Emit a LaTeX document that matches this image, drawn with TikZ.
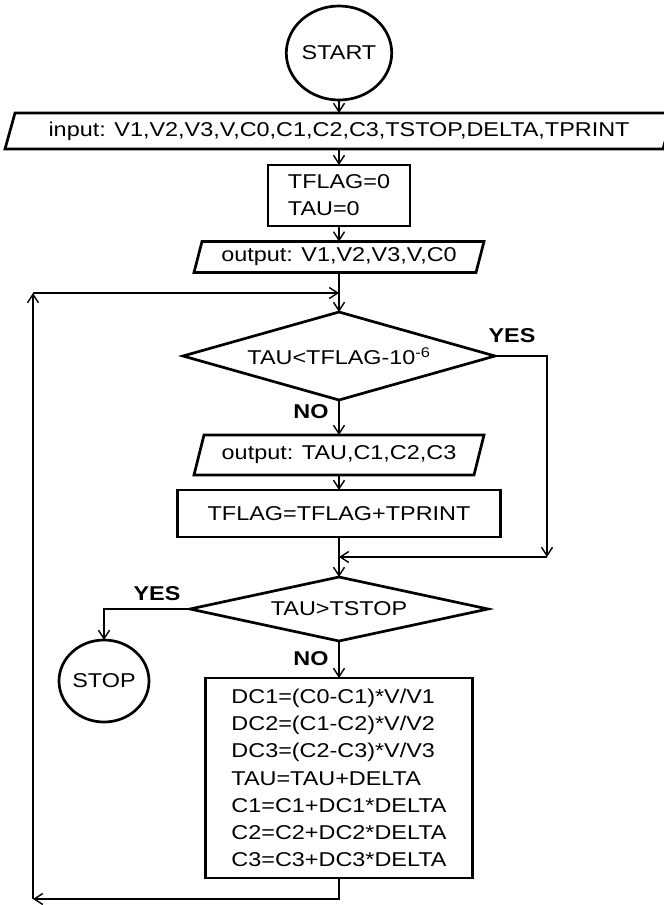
\documentclass[tikz,border=0pt]{standalone}
\usepackage{fontspec}
\setmainfont{Liberation Sans}[FakeStretch=1.17]
\usetikzlibrary{shapes.geometric,arrows.meta}
\begin{document}
\begin{tikzpicture}[x=1pt,y=-1pt,
  txt/.style={font=\fontsize{20}{27.2}\selectfont},
  shp/.style={draw, line width=2.7pt, txt, outer sep=0pt, inner sep=0pt},
  plainbox/.style={txt, outer sep=0pt, inner sep=0pt},
  para/.style={line width=2.7pt},
  conn/.style={line width=1.4pt},
  arr/.style={conn, -{Straight Barb[length=8.5pt,width=11pt]}},
  lbl/.style={font=\fontsize{20}{22}\selectfont\bfseries}]
\useasboundingbox (0,0) rectangle (664,905);
\clip (0,0) rectangle (664,905);
\fill[white] (0,0) rectangle (664,905);

% nodes
\node[shp, ellipse, minimum width=100pt, minimum height=94pt] (start) at (339,53) {START};
\node[plainbox, minimum width=668pt, minimum height=36pt] (in) at (339,131) {input: V1,V2,V3,V,C0,C1,C2,C3,TSTOP,DELTA,TPRINT};
\node[shp, rectangle, minimum width=142pt, minimum height=61pt, align=left] (init) at (339,195.5) {TFLAG=0\\TAU=0};
\node[plainbox, minimum width=290pt, minimum height=31pt] (o1) at (339,257) {output: V1,V2,V3,V,C0};
\node[shp, diamond, aspect=3.5, minimum width=312pt, minimum height=88pt] (d1) at (339,356) {TAU<TFLAG-10\textsuperscript{-6}};
\node[plainbox, minimum width=290pt, minimum height=40pt] (o2) at (339,455) {output: TAU,C1,C2,C3};
\node[shp, rectangle, minimum width=323pt, minimum height=47pt] (b2) at (339,513.5) {TFLAG=TFLAG+TPRINT};
\node[shp, diamond, aspect=4.5, minimum width=298pt, minimum height=64pt] (d2) at (339,609) {TAU>TSTOP};
\node[shp, ellipse, minimum width=90pt, minimum height=82pt] (stop) at (104,681) {STOP};
\node[shp, rectangle, minimum width=267pt, minimum height=200pt, align=left] (b3) at (339,778)
  {DC1=(C0-C1)*V/V1\\DC2=(C1-C2)*V/V2\\DC3=(C2-C3)*V/V3\\TAU=TAU+DELTA\\C1=C1+DC1*DELTA\\C2=C2+DC2*DELTA\\C3=C3+DC3*DELTA};

% parallelogram outlines
\draw[para] ([xshift=10pt]in.north west) -- (in.north east) -- ([xshift=-10pt]in.south east) -- (in.south west) -- cycle;
\draw[para] ([xshift=8pt]o1.north west) -- (o1.north east) -- ([xshift=-8pt]o1.south east) -- (o1.south west) -- cycle;
\draw[para] ([xshift=10pt]o2.north west) -- (o2.north east) -- ([xshift=-10pt]o2.south east) -- (o2.south west) -- cycle;

% labels
\node[lbl] (yes1) at (512,336) {YES};
\node[lbl] (no1) at (311,412) {NO};
\node[lbl] (yes2) at (157,594) {YES};
\node[lbl] (no2) at (311,659) {NO};

% connector corner points
\coordinate (cTR) at (339,293);
\coordinate (cTL) at (33,293);
\coordinate (cBL) at (33,899);
\coordinate (cY1) at (547,557);
\coordinate (mrg) at (339,557);

% connectors
\draw[arr] (start.south) -- (in.north);
\draw[arr] (in.south) -- (init.north);
\draw[arr] (init.south) -- (o1.north);
\draw[arr] (o1.south) -- (d1.north);
\draw[arr] (d1.south) -- (o2.north);
\draw[arr] (o2.south) -- (b2.north);
\draw[arr] (b2.south) -- (d2.north);
\draw[arr] (d2.south) -- (b3.north);
\draw[arr] (d1.east) -| (cY1);
\draw[arr] (cY1) -- (mrg);
\draw[arr] (d2.west) -| (stop.north);
\draw[arr] (b3.south) |- (cBL);
\draw[arr] (cBL) -- (cTL);
\draw[arr] (cTL) -- (cTR);
\end{tikzpicture}
\end{document}
